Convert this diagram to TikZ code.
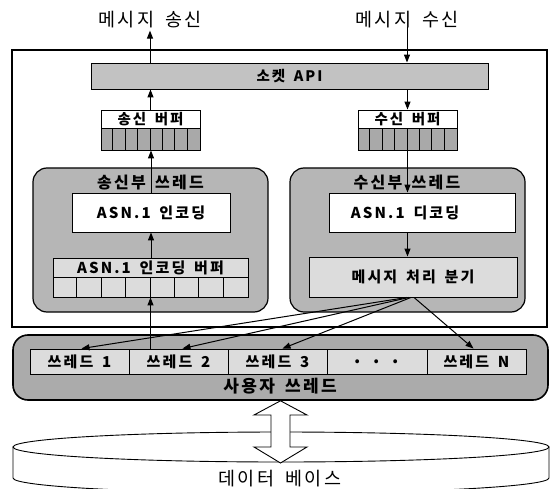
\documentclass[tikz,border=0pt]{standalone}
\usepackage{fontspec}
\setmainfont{Noto Sans CJK KR}[LetterSpace=14, WordSpace=1.6]
\usetikzlibrary{arrows.meta}
\definecolor{apigray}{HTML}{C2C2C2}
\definecolor{thrgray}{HTML}{B6B6B6}
\definecolor{cellgray}{HTML}{A9A9A9}
\definecolor{lightg}{HTML}{DCDCDC}
\definecolor{usergray}{HTML}{ABABAB}
\begin{document}
\begin{tikzpicture}[x=1pt,y=-1pt,
  bx/.style={draw, line width=0.9pt, inner sep=0pt},
  rbox/.style={draw, line width=1.2pt, rounded corners=14pt, inner sep=0pt},
  arr/.style={line width=1pt, -{Triangle[length=8pt,width=6pt]}},
  ln/.style={line width=0.9pt},
  ftop/.style={font=\fontsize{18.5}{18.5}\selectfont},
  fttl/.style={font=\fontsize{16}{16}\selectfont\bfseries},
  fbox/.style={font=\fontsize{15}{15}\selectfont\bfseries},
  fsm/.style={font=\fontsize{14.5}{14.5}\selectfont\bfseries}]
\useasboundingbox (0,0) rectangle (551,489);

% top labels
\node[ftop, inner sep=0pt] (sendtxt) at (150,20) {메시지 송신};
\node[ftop, inner sep=0pt] (rcvtxt) at (407,20) {메시지 수신};

% outer frame
\node[draw, line width=1.5pt, minimum width=535pt, minimum height=277pt, inner sep=0pt] (outer) at (279.5,188.5) {};

% socket API
\node[bx, fill=apigray, minimum width=397pt, minimum height=26pt, fsm] (api) at (289.5,76) {소켓 API};

% send buffer
\node[bx, fill=white, minimum width=99pt, minimum height=18pt, fsm] (sendbuf) at (150.5,119) {송신 버퍼};
\node[bx, fill=cellgray, minimum width=99pt, minimum height=22pt] (sendcells) at (150.5,139) {};
\foreach \i in {1,...,7} \draw[ln] (sendcells.south west) ++(\i*99/8,0) -- ++(0,-22);

% recv buffer
\node[bx, fill=white, minimum width=99pt, minimum height=18pt, fsm] (recvbuf) at (407.5,119) {수신 버퍼};
\node[bx, fill=cellgray, minimum width=99pt, minimum height=22pt] (recvcells) at (407.5,139) {};
\foreach \i in {1,...,7} \draw[ln] (recvcells.south west) ++(\i*99/8,0) -- ++(0,-22);

% send thread
\node[rbox, fill=thrgray, minimum width=235pt, minimum height=144pt] (sendthr) at (150.5,240) {};
\node[fttl, inner sep=0pt] (sendttl) at (150.5,183) {송신부 쓰레드};
\node[bx, fill=white, minimum width=158pt, minimum height=39pt, fbox] (enc) at (151,212.5) {ASN.1 인코딩};
\node[bx, fill=lightg, minimum width=195pt, minimum height=19pt, fbox] (encbuf) at (150.5,267.5) {ASN.1 인코딩 버퍼};
\node[bx, fill=lightg, minimum width=195pt, minimum height=20pt] (enccells) at (150.5,287) {};
\foreach \i in {1,...,7} \draw[ln] (enccells.south west) ++(\i*195/8,0) -- ++(0,-20);

% recv thread
\node[rbox, fill=thrgray, minimum width=235pt, minimum height=144pt] (recvthr) at (407.5,240) {};
\node[fttl, inner sep=0pt] (recvttl) at (407,183) {수신부 쓰레드};
\node[bx, fill=white, minimum width=186pt, minimum height=39pt] (dec) at (422,212.5) {};
\node[fbox, inner sep=0pt] (dectxt) at (405,212.5) {ASN.1 디코딩};
\node[bx, fill=lightg, minimum width=208pt, minimum height=40pt, fbox] (disp) at (413,277) {메시지 처리 분기};

% user threads
\node[draw, line width=1.6pt, rounded corners=15pt, fill=usergray, minimum width=535pt, minimum height=65pt, inner sep=0pt] (userthr) at (280.5,367.5) {};
\node[bx, fill=lightg, minimum width=99pt, minimum height=25pt, fbox] (t1) at (79.5,361.5) {쓰레드 1};
\node[bx, fill=lightg, minimum width=99pt, minimum height=25pt, fbox] (t2) at (178.5,361.5) {쓰레드 2};
\node[bx, fill=lightg, minimum width=99pt, minimum height=25pt, fbox] (t3) at (277.5,361.5) {쓰레드 3};
\node[bx, fill=lightg, minimum width=100pt, minimum height=25pt, font=\fontsize{18}{18}\selectfont\bfseries] (tdots) at (377,361.5) {. . .};
\node[bx, fill=lightg, minimum width=99pt, minimum height=25pt, fbox] (tn) at (476.5,361.5) {쓰레드 N};
\node[fttl, font=\fontsize{17}{17}\selectfont\bfseries, inner sep=0pt] (usertxt) at (280,386) {사용자 쓰레드};

% database
\draw[ln, fill=white] (13,447) -- (13,478) arc[start angle=180, end angle=360, x radius=268pt, y radius=15pt] -- (549,447) -- cycle;
\draw[ln, fill=white] (281,447) ellipse [x radius=268pt, y radius=15pt];
\node[ftop, inner sep=0pt] (dbtxt) at (280,479) {데이터 베이스};

% double arrow between user threads and database
\draw[ln, fill=white] (userthr.south) -- (307,415) -- (290,415) -- (290,447) -- (307,447) -- (280.5,463) -- (254,447) -- (271,447) -- (271,415) -- (254,415) -- cycle;

% connectors
\draw[arr] (api.north -| sendtxt.south) -- ([yshift=-2pt]sendtxt.south);
\draw[arr] ([yshift=2pt]rcvtxt.south) -- (api.north -| rcvtxt.south);
\draw[arr] (sendbuf.north) -- (api.south -| sendbuf.north);
\draw[arr] (api.south -| recvbuf.north) -- (recvbuf.north);
\draw[arr] (enc.north) -- (sendcells.south -| enc.north);
\draw[arr] (encbuf.north -| enc.south) -- (enc.south);
\draw[arr] (t2.north -| enccells.south) -- (enccells.south);
\draw[arr] (recvcells.south) -- (dec.north -| recvcells.south);
\draw[arr] (dec.south -| recvcells.south) -- (disp.north -| recvcells.south);
\draw[arr] ([xshift=-6pt]disp.south) -- ([xshift=2pt]t1.north);
\draw[arr] ([xshift=-4pt]disp.south) -- ([xshift=4pt]t2.north);
\draw[arr] ([xshift=-2pt]disp.south) -- ([xshift=5pt]t3.north);
\draw[arr] ([xshift=1pt]disp.south) -- ([xshift=-3pt]tn.north);
\end{tikzpicture}
\end{document}
